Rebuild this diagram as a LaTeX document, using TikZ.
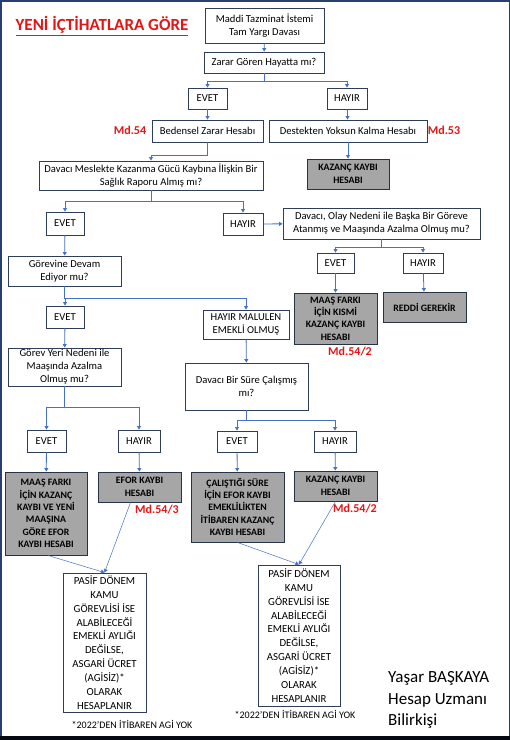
\documentclass[tikz,border=0pt]{standalone}
\usepackage{fontspec}
\setmainfont{Carlito}
\usepackage{tikz}
\usetikzlibrary{arrows.meta}
\usetikzlibrary{positioning}

\definecolor{boxline}{RGB}{47,62,88}
\definecolor{linkblue}{RGB}{68,114,196}
\definecolor{resultgray}{RGB}{166,166,166}
\definecolor{mdred}{RGB}{230,20,20}
\definecolor{framenavy}{RGB}{40,62,110}

\tikzset{
	qbox/.style={draw=boxline, line width=0.9pt, fill=white, align=center, inner sep=0pt,
		font=\fontsize{10.6}{13}\selectfont},
	rbox/.style={draw=boxline!80!black, line width=0.9pt, fill=resultgray, align=center, inner sep=0pt,
		font=\fontsize{9.8}{12.4}\selectfont\bfseries},
	pbox/.style={draw=boxline, line width=0.9pt, fill=white, align=center, inner sep=0pt,
		font=\fontsize{10.8}{13.9}\selectfont},
	link/.style={draw=linkblue, line width=0.8pt, -{Triangle[length=3.5pt,width=4pt]}},
	thinlink/.style={draw=linkblue, line width=0.5pt, -{Triangle[length=3.5pt,width=4pt]}},
	mdlabel/.style={text=mdred, font=\fontsize{12}{14}\selectfont\bfseries, inner sep=0pt},
	note/.style={font=\fontsize{10}{12}\selectfont, inner sep=0pt}
}

\begin{document}
\begin{tikzpicture}[x=1pt,y=-1pt]
		\useasboundingbox (0,0) rectangle (510,740);
		\fill [white] (0,0) rectangle (510,740);
		\draw [framenavy, line width=1.5pt] (0.75,736) -- (0.75,0.75) -- (509.25,0.75) -- (509.25,736);
		\fill [black!85!framenavy] (0,735.5) rectangle (510,740);
		
		\node [text=mdred, font=\fontsize{17}{19}\selectfont\bfseries, inner sep=0pt] (title) at (102,26) {\underline{YENİ İÇTİHATLARA GÖRE}};
		
		\node [qbox, minimum width=119pt, minimum height=35pt] (maddi) at (264.5,25.5) {Maddi Tazminat İstemi\\Tam Yargı Davası};
		\node [qbox, minimum width=120pt, minimum height=21pt] (zarar) at (264,62.5) {Zarar Gören Hayatta mı?};
		\node [qbox, minimum width=39pt, minimum height=21pt] (evetA) at (207.5,98.5) {EVET};
		\node [qbox, minimum width=40pt, minimum height=21pt] (hayirA) at (347,98.5) {HAYIR};
		\node [qbox, minimum width=111pt, minimum height=22pt] (bedensel) at (207.5,131) {Bedensel Zarar Hesabı};
		\node [qbox, minimum width=158pt, minimum height=22pt] (destek) at (348,131) {Destekten Yoksun Kalma Hesabı};
		\node [mdlabel] (mdA) at (130,130) {Md.54};
		\node [mdlabel] (mdB) at (444,130) {Md.53};
		\node [rbox, minimum width=82pt, minimum height=30pt] (kazancA) at (348,174) {KAZANÇ KAYBI\\HESABI};
		\node [qbox, minimum width=224pt, minimum height=29pt] (rapor) at (151,175.5) {Davacı Meslekte Kazanma Gücü Kaybına İlişkin Bir\\Sağlık Raporu Almış mı?};
		
		\node [qbox, minimum width=38pt, minimum height=23pt] (evetB) at (65,223.5) {EVET};
		\node [qbox, minimum width=40pt, minimum height=22pt] (hayirB) at (243,224) {HAYIR};
		\node [qbox, minimum width=197pt, minimum height=31pt] (atanma) at (381.5,223.5) {Davacı, Olay Nedeni ile Başka Bir Göreve\\Atanmış ve Maaşında Azalma Olmuş mu?};
		\node [qbox, minimum width=37pt, minimum height=20pt] (evetC) at (335.5,263) {EVET};
		\node [qbox, minimum width=40pt, minimum height=20pt] (hayirC) at (423,263) {HAYIR};
		\node [qbox, minimum width=113pt, minimum height=30pt] (gorev) at (64.5,271) {Görevine Devam\\Ediyor mu?};
		\node [rbox, minimum width=83pt, minimum height=51pt] (maasfark) at (335.5,318.5) {MAAŞ FARKI\\İÇİN KISMİ\\KAZANÇ KAYBI\\HESABI};
		\node [rbox, minimum width=83pt, minimum height=30pt] (reddi) at (424.5,307) {REDDİ GEREKİR};
		\node [mdlabel] (mdC) at (350,352) {Md.54/2};
		
		\node [qbox, minimum width=38pt, minimum height=22pt] (evetD) at (65,317) {EVET};
		\node [qbox, minimum width=86pt, minimum height=29pt] (malulen) at (246,324.5) {HAYIR MALULEN\\EMEKLİ OLMUŞ};
		\node [qbox, minimum width=113pt, minimum height=38pt] (gorevyeri) at (64.5,367) {Görev Yeri Nedeni ile\\Maaşında Azalma\\Olmuş mu?};
		\node [qbox, minimum width=123pt, minimum height=47pt] (calisma) at (246.5,386.5) {Davacı Bir Süre Çalışmış\\mı?};
		
		\node [qbox, minimum width=39pt, minimum height=22pt] (evetE) at (46.5,441) {EVET};
		\node [qbox, minimum width=42pt, minimum height=22pt] (hayirE) at (139,441) {HAYIR};
		\node [qbox, minimum width=40pt, minimum height=21pt] (evetF) at (237,441.5) {EVET};
		\node [qbox, minimum width=42pt, minimum height=21pt] (hayirF) at (335,441.5) {HAYIR};
		
		\node [rbox, minimum width=82pt, minimum height=83pt] (sonucA) at (46,513.5) {MAAŞ FARKI\\İÇİN KAZANÇ\\KAYBI VE YENİ\\MAAŞINA\\GÖRE EFOR\\KAYBI HESABI};
		\node [rbox, minimum width=83pt, minimum height=30pt] (efor) at (139.5,487) {EFOR KAYBI\\HESABI};
		\node [mdlabel] (mdD) at (157,510) {Md.54/3};
		\node [rbox, minimum width=93pt, minimum height=70pt] (calisti) at (237.5,507) {ÇALIŞTIĞI SÜRE\\İÇİN EFOR KAYBI\\EMEKLİLİKTEN\\İTİBAREN KAZANÇ\\KAYBI HESABI};
		\node [rbox, minimum width=83pt, minimum height=30pt] (kazancB) at (335.5,486) {KAZANÇ KAYBI\\HESABI};
		\node [mdlabel] (mdE) at (355,509) {Md.54/2};
		
		\node [pbox, minimum width=83pt, minimum height=139pt] (pasifA) at (104.5,642.5) {PASİF DÖNEM\\KAMU\\GÖREVLİSİ İSE\\ALABİLECEĞİ\\EMEKLİ AYLIĞI\\DEĞİLSE,\\ASGARİ ÜCRET\\(AGİSİZ)*\\OLARAK\\HESAPLANIR};
		\node [pbox, minimum width=82pt, minimum height=141pt] (pasifB) at (299,635.5) {PASİF DÖNEM\\KAMU\\GÖREVLİSİ İSE\\ALABİLECEĞİ\\EMEKLİ AYLIĞI\\DEĞİLSE,\\ASGARİ ÜCRET\\(AGİSİZ)*\\OLARAK\\HESAPLANIR};
		\node [note] (notA) at (132,724) {*2022’DEN İTİBAREN AGİ YOK};
		\node [note] (notB) at (295,714) {*2022’DEN İTİBAREN AGİ YOK};
		\node [anchor=west, align=left, inner sep=0pt, font=\fontsize{17}{21.5}\selectfont] (imza) at (388,700) {Yaşar BAŞKAYA\\Hesap Uzmanı\\Bilirkişi};
		
		% connectors
		\draw [link] (maddi) -- (zarar);
		\draw [link] (zarar.south) -- ++(0,7.5) -| (evetA.north);
		\draw [link] (zarar.south) -- ++(0,7.5) -| (hayirA.north);
		\draw [link] (evetA) -- (bedensel);
		\draw [link] (hayirA) -- (destek);
		\draw [link] (bedensel.south) -- ++(0,13) -| (rapor.north);
		\draw [link] (destek) -- (kazancA);
		\draw [link] (rapor.south) -- ++(0,11) -| (evetB.north);
		\draw [link] (rapor.south) -- ++(0,11) -| (hayirB.north);
		\draw [link] (hayirB) -- (atanma);
		\draw [link] (atanma.south) -- ++(0,8) -| (evetC.north);
		\draw [link] (atanma.south) -- ++(0,8) -| (hayirC.north);
		\draw [link] (evetB) -- (gorev);
		\draw [link] (evetC) -- (maasfark);
		\draw [link] (hayirC) -- (reddi);
		\draw [link] (gorev.south) -- ++(0,12) -| (evetD.north);
		\draw [link] (gorev.south) -- ++(0,12) -| (malulen.north);
		\draw [link] (evetD) -- (gorevyeri);
		\draw [link] (malulen) -- (calisma);
		\draw [link] (gorevyeri.south) -- ++(0,21) -| (evetE.north);
		\draw [link] (gorevyeri.south) -- ++(0,21) -| (hayirE.north);
		\draw [link] (calisma.south) -- ++(0,10) -| (evetF.north);
		\draw [link] (calisma.south) -- ++(0,10) -| (hayirF.north);
		\draw [link] (evetE) -- (sonucA);
		\draw [link] (hayirE) -- (efor);
		\draw [link] (evetF) -- (calisti);
		\draw [link] (hayirF) -- (kazancB);
		
		\draw [thinlink] ([xshift=2pt]sonucA.south) -- (pasifA.north);
		\draw [thinlink] ([xshift=-9pt]efor.south) -- (pasifA.north);
		\draw [thinlink] (calisti.south) -- (pasifB.north);
		\draw [thinlink] (kazancB.south) -- (pasifB.north);
	\end{tikzpicture}
\end{document}
